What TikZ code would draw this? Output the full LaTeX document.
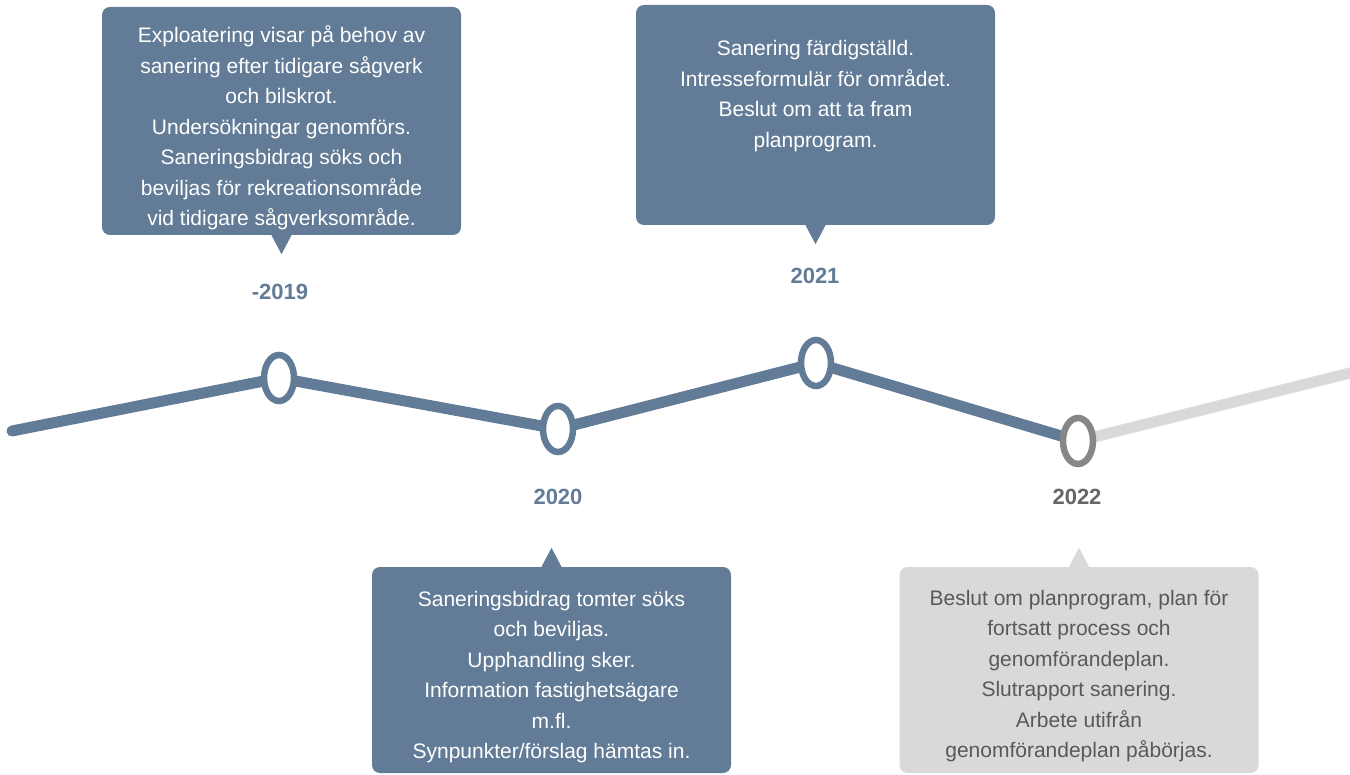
\documentclass[tikz,border=0pt]{standalone}
\usepackage{fontspec}
\setmainfont{Liberation Sans}
\usetikzlibrary{shapes.geometric,positioning,backgrounds}

\definecolor{slate}{HTML}{627B96}
\definecolor{ringgray}{HTML}{878787}
\definecolor{palegray}{HTML}{D9D9D9}
\definecolor{textgray}{HTML}{595959}
\definecolor{yeargray}{HTML}{666666}

\begin{document}
\begin{tikzpicture}[
		x=1pt, y=-1pt,
		every node/.style={font=\fontsize{21}{30.5}\selectfont},
		milestone/.style={ellipse, draw=slate, line width=6.5pt, fill=white, minimum width=30pt, minimum height=46pt, inner sep=0pt},
		year/.style={font=\bfseries\fontsize{22}{26}\selectfont, text=slate},
		callout/.style={rectangle, rounded corners=8pt, fill=slate, minimum width=359pt, minimum height=228pt, inner sep=0pt},
		blurb/.style={align=center, text=white, inner sep=0pt},
		track/.style={line width=11pt}
	]
  \useasboundingbox (0,0) rectangle (1350,775);

  % milestones on the line
  \node (m2019) [milestone] at (279,378) {};
  \node (m2020) [milestone] at (558,429) {};
  \node (m2021) [milestone] at (816,363) {};
  \node (m2022) [milestone, draw=ringgray] at (1078,441) {};
  \coordinate (start) at (12,431);
  \coordinate (finish) at (1362,370);

  \begin{scope}[on background layer]
    \draw[track, slate, line cap=round] (start) -- (m2019.center) -- (m2020.center) -- (m2021.center) -- (m2022.center);
    \draw[track, palegray] (m2022.center) -- (finish);
  \end{scope}

  % years
  \node (y2019) [year] at (280,292) {-2019};
  \node (y2020) [year] at (558,497) {2020};
  \node (y2021) [year] at (815,276) {2021};
  \node (y2022) [year, text=yeargray] at (1077,497) {2022};

  % boxes above
  \node (b2019) [callout] at (281.5,121) {};
  \fill[slate] ([xshift=-10pt]b2019.south) -- ([xshift=10pt]b2019.south) -- ([yshift=-19pt]b2019.south) -- cycle;
  \node (t2019) [blurb, below=19pt of b2019.north] {Exploatering visar på behov av\\sanering efter tidigare sågverk\\och bilskrot.\\Undersökningar genomförs.\\Saneringsbidrag söks och\\beviljas för rekreationsområde\\vid tidigare sågverksområde.};

  \node (b2021) [callout, minimum height=220pt] at (815.5,115) {};
  \fill[slate] ([xshift=-10pt]b2021.south) -- ([xshift=10pt]b2021.south) -- ([yshift=-19pt]b2021.south) -- cycle;
  \node (t2021) [blurb, below=35.5pt of b2021.north] {Sanering färdigställd.\\Intresseformulär för området.\\Beslut om att ta fram\\planprogram.};

  % boxes below
  \node (b2020) [callout, minimum height=206pt] at (551.5,670) {};
  \fill[slate] ([xshift=-10pt]b2020.north) -- ([xshift=10pt]b2020.north) -- ([yshift=19pt]b2020.north) -- cycle;
  \node (t2020) [blurb, below=24pt of b2020.north] {Saneringsbidrag tomter söks\\och beviljas.\\Upphandling sker.\\Information fastighetsägare\\m.fl.\\Synpunkter/förslag hämtas in.};

  \node (b2022) [callout, fill=palegray, minimum height=206pt] at (1079,670) {};
  \fill[palegray] ([xshift=-10pt]b2022.north) -- ([xshift=10pt]b2022.north) -- ([yshift=19pt]b2022.north) -- cycle;
  \node (t2022) [blurb, text=textgray, below=23pt of b2022.north] {Beslut om planprogram, plan för\\fortsatt process och\\genomförandeplan.\\Slutrapport sanering.\\Arbete utifrån\\genomförandeplan påbörjas.};
\end{tikzpicture}
\end{document}
